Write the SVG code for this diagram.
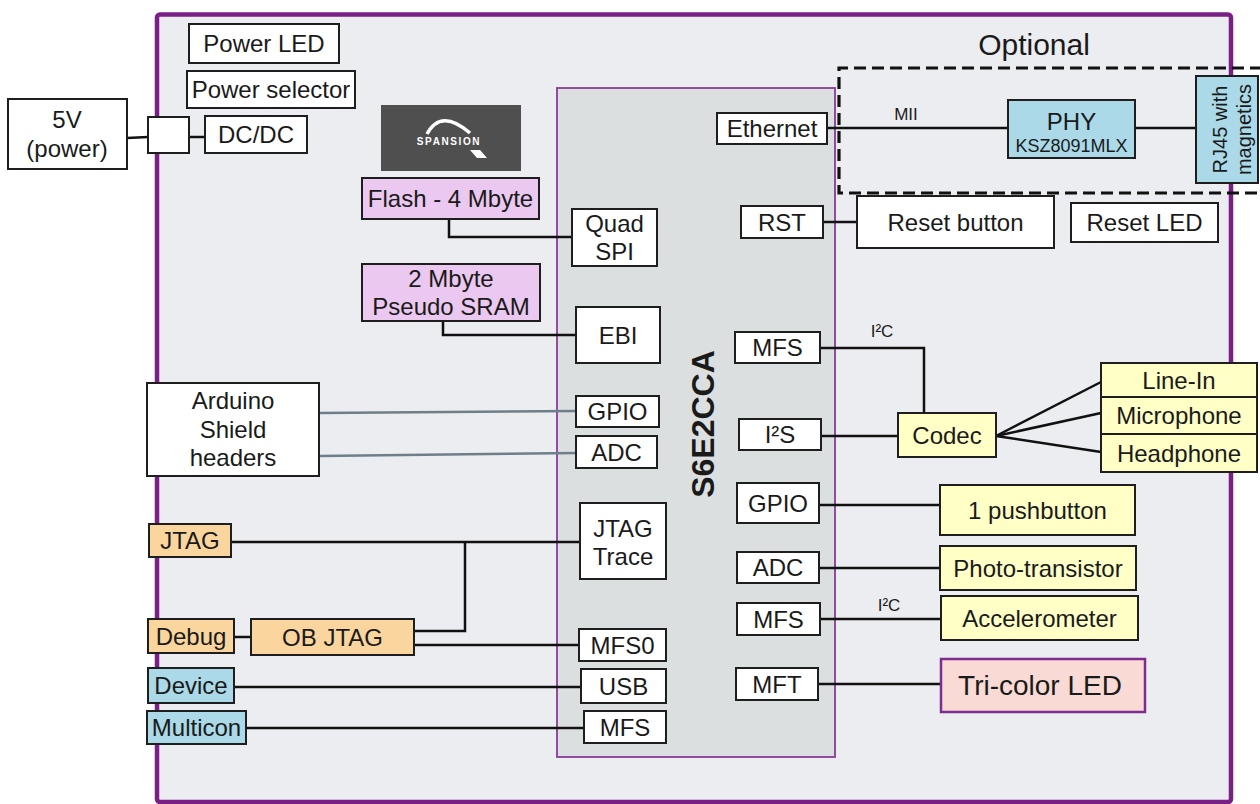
<svg xmlns="http://www.w3.org/2000/svg" width="1260" height="804" viewBox="0 0 1260 804">
<style>
text{font-family:"Liberation Sans",Arial,sans-serif;fill:#1a1a1a;text-anchor:middle}
.t{font-size:24px}
.s{font-size:17px}
.box{stroke:#1e1e1e;stroke-width:2}
.w{fill:#ffffff}
.pk{fill:#EBC8EF}
.bl{fill:#ABD9E8}
.yl{fill:#FFFFC6}
.or{fill:#FBD59E}
.ln{fill:none;stroke:#111;stroke-width:2.5}
.gl{fill:none;stroke:#6E7F8A;stroke-width:2.5}
</style>
<rect x="0" y="0" width="1260" height="804" fill="#ffffff"/>
<g id="board">
<rect x="157" y="14.5" width="1074" height="787.5" rx="3" fill="#ECEDF0" stroke="#7A1F86" stroke-width="4.5"/>
</g>
<g id="mcu">
<rect x="557" y="88" width="278" height="669" fill="#DCDFE0" stroke="#8A3A98" stroke-width="1.8"/>
<text transform="translate(714,424) rotate(-90)" style="font-size:32px;font-weight:bold">S6E2CCA</text>
</g>
<g id="optional">
<path d="M1262 68 H839 V193 H1262" fill="none" stroke="#111" stroke-width="3.2" stroke-dasharray="12 6"/>
<text x="1034" y="55" style="font-size:30px">Optional</text>
</g>
<g id="connectors">
<polyline class="ln" points="127,138 148,137"/>
<polyline class="ln" points="189,137 205,137"/>
<polyline class="ln" points="449,219 449,237 572,237"/>
<polyline class="ln" points="443,321 443,335 576,335"/>
<polyline class="gl" points="319,413 576,411"/>
<polyline class="gl" points="319,456 576,453"/>
<polyline class="ln" points="231,542 580,542"/>
<polyline class="ln" points="414,631 465,631 465,542"/>
<polyline class="ln" points="414,645 579,645"/>
<polyline class="ln" points="234,637 251,637"/>
<polyline class="ln" points="234,687 581,687"/>
<polyline class="ln" points="246,728 584,728"/>
<polyline class="ln" points="827,128 1008,128"/>
<text x="906" y="120" class="s">MII</text>
<polyline class="ln" points="1135,128 1196,128"/>
<polyline class="ln" points="823,222 857,222"/>
<polyline class="ln" points="820,348 924,348 924,413"/>
<text x="882" y="337" class="s">I²C</text>
<polyline class="ln" points="821,436 898,436"/>
<polyline class="ln" points="996,436 1101,382"/>
<polyline class="ln" points="996,436 1101,413"/>
<polyline class="ln" points="996,436 1101,452"/>
<polyline class="ln" points="819,505 940,505"/>
<polyline class="ln" points="819,568 940,568"/>
<polyline class="ln" points="820,619 941,619"/>
<text x="889" y="611" class="s">I²C</text>
<polyline class="ln" points="818,684 941,684"/>
</g>
<g id="power-led"><rect class="box w" x="189" y="24" width="150" height="39"/><text x="264" y="52" class="t">Power LED</text></g>
<g id="power-selector"><rect class="box w" x="187" y="71" width="168" height="37"/><text x="271" y="98" class="t">Power selector</text></g>
<g id="power-5v"><rect class="box w" x="8" y="99" width="119" height="70"/><text x="67" y="128" class="t">5V</text><text x="67" y="157" class="t">(power)</text></g>
<g id="power-connector"><rect class="box w" x="148" y="117" width="41" height="36"/></g>
<g id="dcdc"><rect class="box w" x="205" y="116" width="102" height="37"/><text x="256" y="143" class="t">DC/DC</text></g>
<g id="spansion-logo">
<rect x="381" y="105" width="140" height="66" fill="#4F4F4F"/>
<path d="M427 134 Q441 108 470 133" fill="none" stroke="#ffffff" stroke-width="3.5"/>
<polygon points="470,150 480,150 487,158 477,158" fill="#ffffff"/>
<text x="449" y="145" style="font-size:10px;font-weight:bold;letter-spacing:1.6px;fill:#ffffff">SPANSION</text>
</g>
<g id="flash"><rect class="box pk" x="362" y="178" width="177" height="41"/><text x="450.5" y="207" class="t">Flash - 4 Mbyte</text></g>
<g id="quad-spi"><rect class="box w" x="572" y="209" width="85" height="57"/><text x="614.5" y="232" class="t">Quad</text><text x="614.5" y="260" class="t">SPI</text></g>
<g id="sram"><rect class="box pk" x="362" y="264" width="178" height="57"/><text x="451" y="287" class="t">2 Mbyte</text><text x="451" y="315" class="t">Pseudo SRAM</text></g>
<g id="ebi"><rect class="box w" x="576" y="307" width="84" height="56"/><text x="618" y="344" class="t">EBI</text></g>
<g id="gpio-left"><rect class="box w" x="576" y="396" width="83" height="31"/><text x="617.5" y="420" class="t">GPIO</text></g>
<g id="adc-left"><rect class="box w" x="576" y="436" width="81" height="32"/><text x="616.5" y="460.5" class="t">ADC</text></g>
<g id="jtag-trace"><rect class="box w" x="580" y="503" width="86" height="76"/><text x="623" y="537" class="t">JTAG</text><text x="623" y="565" class="t">Trace</text></g>
<g id="mfs0"><rect class="box w" x="579" y="629" width="87" height="32"/><text x="622.5" y="653.5" class="t">MFS0</text></g>
<g id="usb"><rect class="box w" x="581" y="669" width="85" height="34"/><text x="623.5" y="694.5" class="t">USB</text></g>
<g id="mfs-multicon"><rect class="box w" x="584" y="711" width="82" height="32"/><text x="625" y="735.5" class="t">MFS</text></g>
<g id="arduino"><rect class="box w" x="147" y="383" width="172" height="93"/><text x="233" y="409" class="t">Arduino</text><text x="233" y="438" class="t">Shield</text><text x="233" y="466" class="t">headers</text></g>
<g id="jtag"><rect class="box or" x="149" y="524" width="82" height="33"/><text x="190" y="549" class="t">JTAG</text></g>
<g id="debug"><rect class="box or" x="148" y="619" width="86" height="34"/><text x="191" y="644.5" class="t">Debug</text></g>
<g id="ob-jtag"><rect class="box or" x="251" y="619" width="163" height="36"/><text x="332.5" y="645.5" class="t">OB JTAG</text></g>
<g id="device"><rect class="box bl" x="148" y="668" width="86" height="35"/><text x="191" y="694" class="t">Device</text></g>
<g id="multicon"><rect class="box bl" x="147" y="711" width="99" height="33"/><text x="196.5" y="736" class="t">Multicon</text></g>
<g id="ethernet"><rect class="box w" x="717" y="113" width="110" height="31"/><text x="772" y="137" class="t">Ethernet</text></g>
<g id="phy"><rect class="box bl" x="1008" y="100" width="127" height="58"/><text x="1071.5" y="130" class="t">PHY</text><text x="1071.5" y="152" style="font-size:18px">KSZ8091MLX</text></g>
<g id="rj45"><rect class="box bl" x="1196" y="76" width="62" height="107"/><text transform="translate(1227,129.5) rotate(-90)" style="font-size:20px">RJ45 with</text><text transform="translate(1251,129.5) rotate(-90)" style="font-size:20px">magnetics</text></g>
<g id="rst"><rect class="box w" x="741" y="206" width="82" height="32"/><text x="782" y="230.5" class="t">RST</text></g>
<g id="reset-button"><rect class="box w" x="857" y="196" width="197" height="52"/><text x="955.5" y="230.5" class="t">Reset button</text></g>
<g id="reset-led"><rect class="box w" x="1071" y="203" width="147" height="39"/><text x="1144.5" y="231" class="t">Reset LED</text></g>
<g id="mfs-i2c"><rect class="box w" x="735" y="332" width="85" height="31"/><text x="777.5" y="356" class="t">MFS</text></g>
<g id="i2s"><rect class="box w" x="739" y="419" width="82" height="31"/><text x="780" y="443" class="t">I²S</text></g>
<g id="codec"><rect class="box yl" x="898" y="413" width="98" height="44"/><text x="947" y="443.5" class="t">Codec</text></g>
<g id="line-in"><rect class="box yl" x="1101" y="363" width="156" height="34"/><text x="1179" y="388.5" class="t">Line-In</text></g>
<g id="microphone"><rect class="box yl" x="1101" y="397" width="156" height="37"/><text x="1179" y="424" class="t">Microphone</text></g>
<g id="headphone"><rect class="box yl" x="1101" y="434" width="156" height="38"/><text x="1179" y="461.5" class="t">Headphone</text></g>
<g id="gpio-right"><rect class="box w" x="737" y="483" width="82" height="40"/><text x="778" y="511.5" class="t">GPIO</text></g>
<g id="pushbutton"><rect class="box yl" x="940" y="485" width="195" height="50"/><text x="1037.5" y="518.5" class="t">1 pushbutton</text></g>
<g id="adc-right"><rect class="box w" x="737" y="552" width="82" height="31"/><text x="778" y="576" class="t">ADC</text></g>
<g id="photo-transistor"><rect class="box yl" x="940" y="546" width="196" height="44"/><text x="1038" y="576.5" class="t">Photo-transistor</text></g>
<g id="mfs-accel"><rect class="box w" x="737" y="603" width="83" height="32"/><text x="778.5" y="627.5" class="t">MFS</text></g>
<g id="accelerometer"><rect class="box yl" x="941" y="596" width="197" height="44"/><text x="1039.5" y="626.5" class="t">Accelerometer</text></g>
<g id="mft"><rect class="box w" x="736" y="668" width="82" height="32"/><text x="777" y="692.5" class="t">MFT</text></g>
<g id="tri-color-led"><rect x="941" y="659" width="204" height="53" fill="#FADAD5" stroke="#7E2D8E" stroke-width="2.5"/><text x="1040" y="695" style="font-size:28px">Tri-color LED</text></g>
</svg>
